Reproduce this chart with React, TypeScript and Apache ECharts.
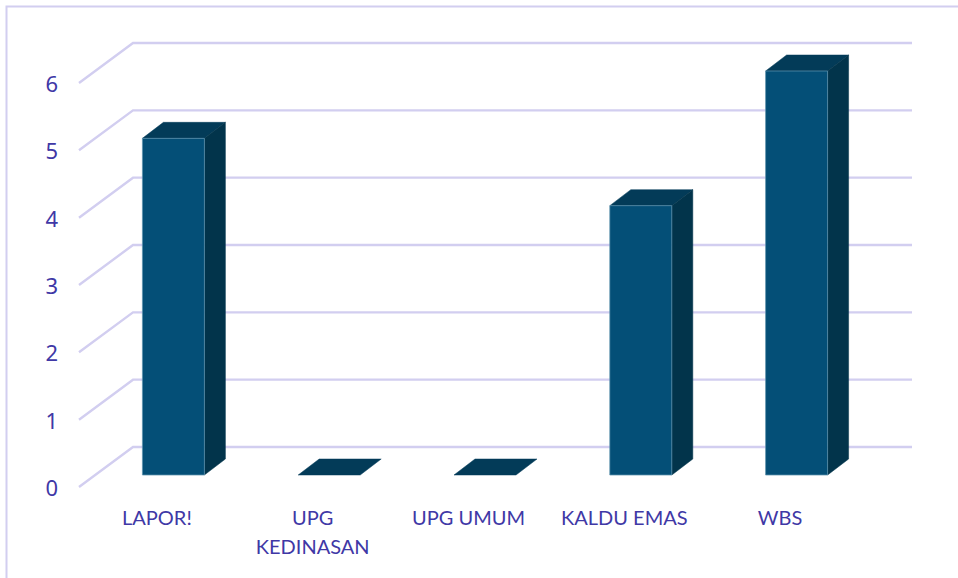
import React, { useEffect, useRef } from "react";
import * as echarts from "echarts";

const categories = ["LAPOR!", "UPG\nKEDINASAN", "UPG UMUM", "KALDU EMAS", "WBS"];
const values = [5, 0, 0, 4, 6];
const yTicks = [0, 1, 2, 3, 4, 5, 6];

const GRID = "#D2CEF0";
const TEXT = "#4038A6";
const FRONT = "#044F77";
const TOP = "#033B58";
const SIDE = "#02344B";
const EDGE = "#5F93AD";

export default function App() {
  const ref = useRef<HTMLDivElement>(null);
  useEffect(() => {
    document.body.style.margin = "0";
    const chart = echarts.init(ref.current!, null, { renderer: "svg" });
    chart.setOption({
      animation: false,
      backgroundColor: "#ffffff",
      grid: { left: 79, right: 100, top: 83, bottom: 91 },
      graphic: [
        {
          type: "polyline",
          silent: true,
          shape: { points: [[6.5, 578], [6.5, 6.5], [958, 6.5]] },
          style: { stroke: GRID, lineWidth: 2, fill: "none" },
        },
      ],
      xAxis: {
        type: "category",
        data: categories,
        axisLine: { show: false },
        axisTick: { show: false },
        axisLabel: {
          interval: 0,
          margin: 15,
          color: TEXT,
          fontFamily: "Lato",
          fontSize: 20,
          lineHeight: 29,
          verticalAlign: "top",
        },
      },
      yAxis: {
        type: "value",
        min: 0,
        max: 6,
        interval: 1,
        axisLine: { show: false },
        axisTick: { show: false },
        splitLine: { show: false },
        axisLabel: { margin: 21, color: TEXT, fontFamily: "Noto Sans", fontSize: 22 },
      },
      series: [
        {
          type: "custom",
          z: 1,
          clip: false,
          silent: true,
          data: yTicks.map((t) => [0, t]),
          encode: { x: 0, y: 1 },
          renderItem: (params: any, api: any) => {
            const y = api.coord([0, api.value(1)])[1];
            const cs = params.coordSys;
            const x0 = cs.x;
            const x1 = cs.x + cs.width;
            return {
              type: "polyline",
              shape: { points: [[x0, y], [x0 + 54, y - 40], [x1 + 54, y - 40]] },
              style: { stroke: GRID, lineWidth: 2.4, fill: "none" },
            };
          },
        },
        {
          type: "custom",
          z: 2,
          clip: false,
          silent: true,
          data: values.map((v, i) => [i, v]),
          encode: { x: 0, y: 1 },
          renderItem: (_params: any, api: any) => {
            const top = api.coord([api.value(0), api.value(1)]);
            const base = api.coord([api.value(0), 0]);
            const dx = 16.5, dy = -12, w = 62, ddx = 21, ddy = -16;
            const l = base[0] + dx - w / 2;
            const r = l + w;
            const b = base[1] + dy;
            const t = top[1] + dy;
            const children: any[] = [];
            children.push({
              type: "polygon",
              shape: { points: [[l, t], [l + ddx, t + ddy], [r + ddx, t + ddy], [r, t]] },
              style: { fill: TOP, stroke: TOP, lineWidth: 0.5 },
            });
            if (b - t > 0.5) {
              children.push({
                type: "polygon",
                shape: { points: [[r, t], [r + ddx, t + ddy], [r + ddx, b + ddy], [r, b]] },
                style: { fill: SIDE, stroke: SIDE, lineWidth: 0.5 },
              });
              children.push({
                type: "rect",
                shape: { x: l, y: t, width: w, height: b - t },
                style: { fill: FRONT, stroke: EDGE, lineWidth: 0.75 },
              });
            }
            return { type: "group", children };
          },
        },
      ],
    });
    return () => chart.dispose();
  }, []);
  return <div ref={ref} style={{ width: 958, height: 578 }} />;
}
